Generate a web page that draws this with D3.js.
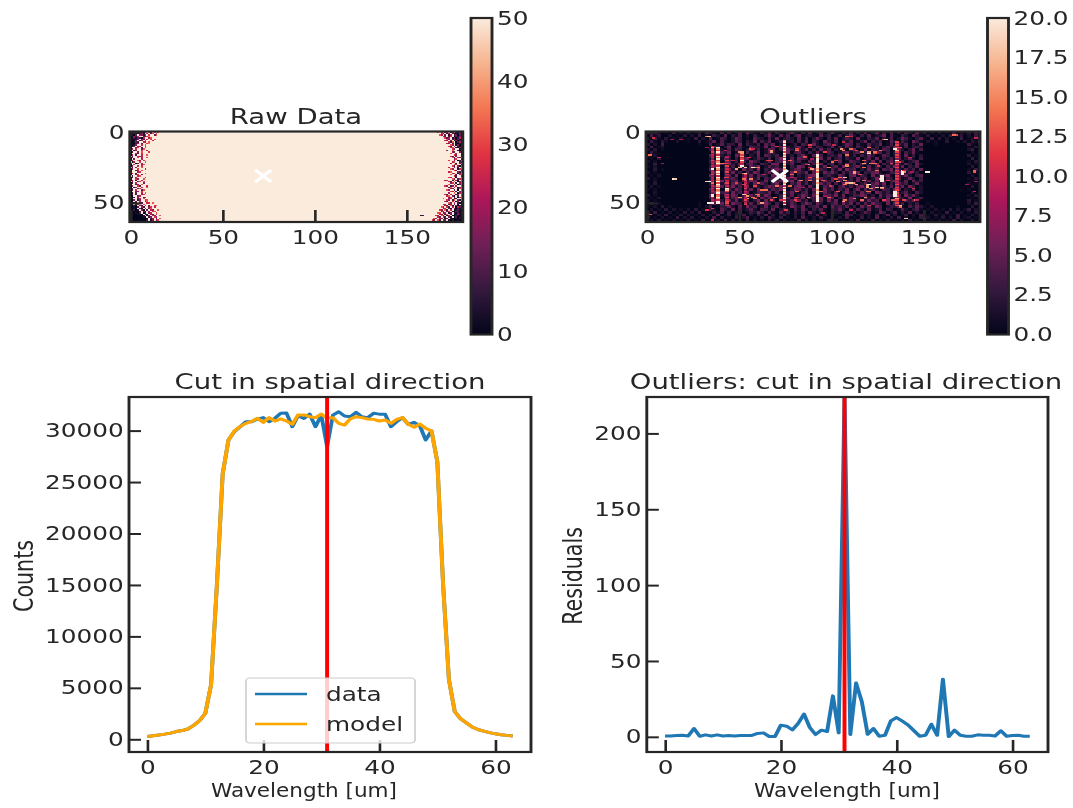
<!DOCTYPE html>
<html>
<head>
<meta charset="utf-8">
<script src="https://cdn.jsdelivr.net/npm/d3@7"></script>
<style>
html, body { margin: 0; background: #fff; overflow: hidden; }
svg { display: block; filter: blur(0.6px); }
text { font-family: "DejaVu Sans", sans-serif; fill: #262626; }
</style>
</head>
<body>
<div id="chart"></div>
<script>
// cut through the cube, one value per spatial pixel
var dataCounts = [280, 350, 420, 500, 600, 750, 850, 1000, 1350, 1800, 2500, 5300, 15000, 25800, 29090, 29900, 30380, 30860, 30860, 31120, 31260, 30860, 31190, 31680, 31700, 30380, 31450, 31190, 31600, 30380, 31500, 28440, 31500, 31830, 31420, 31350, 31770, 31350, 31260, 31680, 31600, 31600, 30380, 30860, 31260, 30600, 30800, 30450, 29090, 29970, 26980, 15000, 5800, 2700, 2000, 1600, 1200, 950, 800, 650, 530, 450, 380, 320];
var modelCounts = [280, 350, 420, 500, 600, 750, 850, 1000, 1350, 1800, 2500, 5300, 15000, 25800, 29090, 29950, 30400, 30700, 30900, 31190, 30800, 31260, 30930, 31130, 30930, 30610, 31520, 31520, 31350, 31260, 31610, 31190, 31260, 30700, 30540, 31130, 31350, 31260, 31130, 31090, 30930, 31030, 30700, 31090, 31260, 30610, 30320, 30640, 30220, 29960, 26980, 15000, 5800, 2700, 2000, 1600, 1200, 950, 800, 650, 530, 450, 380, 320];
var residuals = [0.5, 0.5, 0.8, 1, 0.5, 5.5, 0.4, 1.3, 0.5, 1.3, 0.5, 0.8, 0.5, 0.8, 0.8, 0.9, 2.2, 2.6, 0.2, 0.2, 7.7, 7, 4.6, 8.8, 15, 6.2, 1.5, 4.4, 3.5, 27, 2.6, 224, 1.5, 35.5, 23, 1.7, 5.5, 0.4, 1, 10.5, 12.7, 10.3, 7.7, 4, 0.4, 1, 8.3, 1, 38, 0.2, 4.4, 1, 0.4, 0.4, 1.3, 1, 1, 0.5, 4, 0.4, 0.9, 1, 0.4, 0.4];
var cutPixel = 31;
var markerCell = [72, 31];

// rocket colormap
var rocketStops = ["#03051a", "#35193e", "#701f57", "#ad1759", "#e13342", "#f37651", "#f6b48f", "#faebdd"];

var rawTicks = [0, 10, 20, 30, 40, 50];
var outlierTicks = [0, 2.5, 5, 7.5, 10, 12.5, 15, 17.5, 20];
var imageXTicks = [0, 50, 100, 150];
var imageYTicks = [0, 50];
var cutXTicks = [0, 20, 40, 60];
var countTicks = [0, 5000, 10000, 15000, 20000, 25000, 30000];
var residualTicks = [0, 50, 100, 150, 200];

// raw image is saturated except along the slit ends. digit = value / 4, "." = saturated
var rawLeft = [
"103261405.73.6.8..", "01420351.6.28.7...", "2103.5416.7..38...", "01526..3479.......",
"10314206..58......", "02013.53.6.7.8....", "1005.24.7...6.....", "00132..64.8.......",
"01025.3..79.......", "1014..6.8.........", "023.56..7.........", "0..47.2.8.........",
"14.6..38..........", "3.25..7..6........", "02..4.8...7.......", "1..63.7...........",
"05.2..6..8........", ".2..647...........", "14..7.5..8........", "0.3...6...........",
"26..84.7..........", ".15..7..8.........", "4..03.6...........", "1.7...58..........",
"03..6.7...........", ".2.4..8...........", "15..7...6.........", "0..36.8...........",
"2...57............", "06.3....8.........", "1..47.5...........", ".2..68............",
"03.5....7.........", "1..74..8..........", "04.2..6...........", ".5..37.8..........",
"02.6...4..........", "1..35.8...........", "04..72...6........", "0.25..6..8........",
"13..47............", "02.6..38..........", "0..45.7...........", "01.3..6.8.........",
"03.2..57..........", "00..46............", "102.5..37.........", "01..36.8..........",
"004.25..78........", "01.3.6..48........", "0102.53..67.8.....", "00.36..8..........",
"1020.42.6.3..78...", "00103.52..47.6....", "2010.31.6.48......", "00201.40.3.65..8..",
"100002.31.5.78....", "000103.02.46..8...", "0000100.21.53.7...", "10000002.13.64..8.",
"000000010.24.75...", "0000000000.25.3.8.", "1000000002.14.67..", "00000000.13.52..6."
];
var rawRight = [
"....8.6.35.14.2031", "......74.26.310240", ".....85.3.16.24031", ".......64.27.03150",
"........735.140262", ".........84.260310", "........65.3.14023", "..........728.0351",
".........64.3.1020", "...........85.1403", "..........73.6.212", "...........58.2041",
"............74..13", ".........6..8..205", "............53..40", "...........8..6..2",
".............74..1", "...........63.5..0", "............82.63.", ".............57..1",
"..........7..4.02.", "............68..35", "...........5..2.4.", ".............86..1",
"............73.50.", "..........6..4.2..", "...........85..16.", ".............73..0",
"..........68...42.", "............57.15.", "...........8..3.6.", ".............62..4",
"..........75..1...", "............84.36.", "........57..2.50..", "..........63.8.14.",
"...........47.2.5.", "..........8..6.03.", "........75.24.6...", "..........38.6.15.",
"...........64..27.", ".........85..3.0..", "...........76.2.4.", "..........5..8.16.",
"........73.6..25..", ".........68.41.3..", "..........57.2.06.", ".......8..46.31...",
".........75.28.41.", "........63..7.15.0", "..........84.6.201", ".......75.26.3.1.0",
"........63.81.4020", "......84.72.5.0631", ".......56.31.40213", ".....74.82.6.01310",
"......65.37.104201", "....87.35.14.20312", ".....64.28.3.01510", "...75.83.16.002103",
"....63.72.41.03010", "..85.64.13.2001020", ".74.82.53.10200100", "....83.61.4.020010"
];
var rawSpots = [[158, 59, 5], [159, 59, 10]];

// outliers: faint background, one char per 2x2 pixel block (base 36, value = char * 0.75)
var outlierFaint = [
"3052010402030130531060402507310426051037204160250371042603150270416030520714020301050213050",
"0513002010302040104206031502041037206150470231062401503720416023705104206310301020401302041",
"2041030102010402060153027401063205170342061503720416025307104260315027410361040302010401203",
"0410310020010030137051026403170526014723051604207315042601370425016305207410201003001020315",
"3020500000000010050261430704215063702601405317204613027504106237015042603170001000000004102",
"0501200000000000016403702510643170526031472061530270416305207140362710503420000000000001030",
"2030100000000000030720516403815027604173052604172503160480271530640162037050000000000002401",
"0410000000000000004153702605138026410370562041710630257146032075140360527100000000000000103",
"3020000000000000062031407520317064250813047206150342706140527301640250714030000000000003010",
"0103000000000000020517304167026315048206175302471603504218036170425160372040000000000000402",
"2010000000000000047302615041853027146037251064803152701643052817046315024600000000000001030",
"0040100000000000015062831704620531870426103715280460317250641380527041630720000000000002010",
"1020000000000000037204150631748026351704286031527046180357206143052817042600000000000000302",
"0030100000000000050413726083517042685103672048153062718460317250648031625070000000000001040",
"2010000000000000016305271406285037162408153706217483052617043682015470261300000000000003010",
"0102000000000000072403618052716430851726031478603521740681530726481053720460000000000000201",
"3010000000000000020517463081627053481063721584063172580417360284153061273040000000000001030",
"0020000000000000063180247153860271546038172604518370625418037261405831607240000000000000100",
"1030000000000000030527168405172630481705382614073605182470361582704163502710000000000002010",
"0201000000000000017460382517063148527031684072516380472516830741526037184020000000000000302",
"1010000000000000053701628403718052647103862517408361527048163720541860317020000000000001000",
"0020000000000000028146073518026437150837214605827316048251736085241703610520000000000000201",
"3010000000000000060317285041736285014726038517204638170254861307264150837200000000000001030",
"0102000000000000042703158640281736504261837054271860352741063825170463180250000000000000102",
"2010000000000000018530627146038172504836172504361827053641827350681420637100000000000003010",
"0401000000000010036271085402617384051726304851730246183705162843071625031400100000000002040",
"1020301000000010250143720618350271460318527034618073526140736185024371052631020000001000301",
"0201030201020301042063170513620541703620517304261053720416307125043016203510102010302014020",
"3040102010302040103150402601427305106240315072041062305140263017402503160203020104010201030",
"0102040103020103020601403150204160302510304021603051026401302050160301402050103020104010302",
"4010201040203010205030104026010305204010306102041030205010402060103050201040201030204012010",
"0203010201030104010205030104020103040201050302010403010205010402030102040103010201040200301"
];

// single hot pixels: column, row, value
var outlierSpots = [
[33,3,18],[35,11,16],[32,11,8],[42,13,10],[51,14,16],[57,12,10],[51,20,20],[51,24,20],[53,25,18],[57,25,20],
[60,25,14],[48,26,16],[40,22,14],[42,22,12],[53,29,18],[42,32,12],[32,35,18],[33,35,20],[35,36,14],[52,33,14],
[52,37,12],[43,41,18],[58,38,12],[52,44,18],[54,45,16],[57,46,14],[60,45,12],[33,50,20],[34,50,20],[35,50,20],
[38,46,20],[43,49,12],[1,16,14],[14,33,20],[15,33,18],[35,54,12],[35,62,10],[1,58,12],[18,5,8],[13,5,7],[6,18,10],[8,22,8],
[67,13,16],[81,12,12],[88,11,10],[85,18,12],[89,19,8],[105,12,16],[108,16,14],[113,13,12],[110,3,10],[106,7,10],
[102,20,12],[117,22,16],[117,25,14],[108,23,14],[86,23,10],[88,25,10],[112,29,16],[107,32,18],[104,32,14],[102,33,12],
[110,36,18],[113,37,16],[107,37,14],[119,38,16],[119,42,14],[88,32,12],[81,46,12],[96,45,8],[106,49,16],[116,48,14],
[60,26,9],[62,41,14],[59,44,14],[67,48,12],[62,50,16],[78,32,10],[84,39,8],[81,49,10],
[129,5,18],[120,11,14],[120,15,20],[126,13,14],[123,15,12],[134,12,20],[137,11,12],[121,22,14],[132,22,12],[136,21,12],
[124,27,14],[139,27,10],[143,28,8],[151,28,20],[152,28,20],[166,2,14],[178,4,10],[177,27,14],[177,42,10],[120,37,20],
[119,39,18],[124,39,18],[127,39,18],[120,42,14],[128,48,12],[137,52,18],[139,48,12],[146,48,10],[140,61,18],[173,37,8],[178,35,8]
];
var outlierSpotsDim = [
[50,14,15],[56,12,13],[67,14,16],[50,25,17],[59,25,14],[52,29,14],[56,33,15],[60,36,13],[64,41,14],[50,46,16],
[54,47,15],[58,47,14],[60,44,13],[81,13,14],[85,17,13],[87,23,15],[89,26,16],[80,28,14],[83,34,15],[78,30,13],
[88,34,14],[95,34,13],[98,25,15],[100,21,14],[106,13,15],[108,3,13],[110,12,14],[116,14,15],[120,14,16],[123,14,14],
[108,24,15],[112,28,16],[107,34,15],[103,35,14],[108,36,16],[111,36,15],[117,34,14],[119,37,15],[126,33,16],[121,40,15],
[127,40,14],[117,20,13],[123,22,14],[118,46,15],[107,48,14],[103,42,13],[98,46,14],[87,46,15],[112,47,14],[135,12,15],
[139,28,15],[135,43,16],[145,48,14],[137,53,14],[128,5,13],[133,48,13],[32,3,14],[67,20,12],[70,38,14],[77,20,13],
[77,38,14],[81,42,13],[69,46,14],[65,20,12],[88,9,12],[94,42,13],[80,48,12],[167,2,12],[177,28,13],[150,61,10],
[32,55,11],[75,55,12],[3,4,11],[46,20,10],[48,36,12],[55,18,11],[63,30,10],[70,10,11],[72,48,11],[96,14,12],
[99,38,11],[101,9,10],[115,30,12],[125,24,11],[130,34,12],[142,18,10],[144,40,11],[120,52,11],[110,55,10],[95,57,10]
];

// bad columns: column, first row, value per row (base 36)
var outlierStreaks = [
[38, 11, "kgckgakekcgkeakgckekakgekckgakegkcekgakk"],
[35, 10, "a6a8c6a8a6c8a6a8k6a8c6a8a6c8a6a8a6kka6a8"],
[43, 17, "8a4c6a4c6a8c4a6c4a8c6a4k6c4a8c6a4c6a"],
[51, 15, "gcgac6c8a"],
[53, 30, "c8a6c8a6a8c6a8c6a8c6ac"],
[74, 6, "gkckakgkckgkakckgkekgkckakgkckgkakckgkekgkckak"],
[92, 16, "kkgkkkgkkkgkekkkkgkkgkkkkgkkgkkkkk"],
[135, 7, "c8c6c8gc6c8c6kc6c8c6c8c6c8c6a8c6c8c6c8c6gc8c6c"],
[127, 31, "kkkkk"],
[134, 42, "kkkk"],
[138, 27, "kkkk"]
];

// layout: the figure is stretched sideways, so work in units that the viewBox widens
var stretch = 1.31;
var figWidth = 1073, figHeight = 808;
function px(v) { return v / stretch; }

var svg = d3.select("#chart").append("svg")
    .attr("width", figWidth)
    .attr("height", figHeight)
    .attr("viewBox", "0 0 " + px(figWidth) + " " + figHeight)
    .attr("preserveAspectRatio", "none");

var rocket = d3.scaleLinear()
    .domain(rocketStops.map(function (d, i) { return i / (rocketStops.length - 1); }))
    .range(rocketStops)
    .interpolate(d3.interpolateRgb)
    .clamp(true);

var ink = "#262626";
var tickFont = 18.9;

function styleAxis(g) {
    g.select(".domain").remove();
    g.selectAll("line").attr("stroke", ink).attr("stroke-width", 2);
    g.selectAll("text").attr("font-size", tickFont).style("fill", ink);
}

function frame(g, x, y) {
    g.append("rect")
        .attr("x", x.range()[0]).attr("y", y.range()[1])
        .attr("width", x.range()[1] - x.range()[0])
        .attr("height", y.range()[0] - y.range()[1])
        .attr("fill", "none").attr("stroke", ink).attr("stroke-width", 2.2);
}

function title(label, cx, baseline) {
    svg.append("text").attr("x", px(cx)).attr("y", baseline)
        .attr("text-anchor", "middle").attr("font-size", 21).text(label);
}

function decodeRaw(c) { return (!c || c === ".") ? 50 : parseInt(c, 10) * 4; }

function rawMatrix() {
    var cells = [];
    for (var r = 0; r < 64; r++) {
        for (var c = 0; c < 181; c++) {
            var v = 50;
            if (c < 18) v = decodeRaw(rawLeft[r][c]);
            if (c >= 163) v = decodeRaw(rawRight[r][c - 163]);
            cells.push({ c: c, r: r, v: v });
        }
    }
    rawSpots.forEach(function (s) { cells[s[1] * 181 + s[0]].v = s[2]; });
    return cells;
}

function outlierMatrix() {
    var cells = [];
    for (var r = 0; r < 64; r++) {
        for (var c = 0; c < 181; c++) {
            var row = outlierFaint[Math.floor(r / 2)];
            var ch = row[Math.floor(c / 2)] || "0";
            cells.push({ c: c, r: r, v: parseInt(ch, 36) * 0.75 });
        }
    }
    // hot pixels bleed into the next column on the detector image
    function paint(c, r, v) {
        if (r > 63) return;
        cells[r * 181 + c].v = v;
        if (c < 180) cells[r * 181 + c + 1].v = v;
    }
    outlierSpotsDim.forEach(function (s) { paint(s[0], s[1], s[2]); });
    outlierStreaks.forEach(function (s) {
        s[2].split("").forEach(function (ch, i) { paint(s[0], s[1] + i, parseInt(ch, 36)); });
    });
    outlierSpots.forEach(function (s) { paint(s[0], s[1], s[2]); });
    return cells;
}

function drawImage(cells, vmax, x0, x1, barX0, barX1, ticks, tickFmt) {
    var x = d3.scaleLinear().domain([-0.5, 180.5]).range([px(x0), px(x1)]);
    var y = d3.scaleLinear().domain([63.5, -0.5]).range([222, 131.5]);
    var color = function (v) { return rocket(v / vmax); };
    var g = svg.append("g");

    g.append("g").selectAll("rect").data(cells).enter().append("rect")
        .attr("x", function (d) { return x(d.c - 0.5); })
        .attr("y", function (d) { return y(d.r - 0.5); })
        .attr("width", x(1) - x(0) + 0.02)
        .attr("height", y(1) - y(0) + 0.02)
        .attr("fill", function (d) { return color(d.v); })
        .attr("shape-rendering", "crispEdges");

    g.append("g").attr("transform", "translate(0,222)")
        .call(d3.axisBottom(x).tickValues(imageXTicks).tickSize(-12).tickPadding(5).tickFormat(d3.format("d")))
        .call(styleAxis)
        .selectAll("text").attr("dy", "0.9em");
    g.append("g").attr("transform", "translate(" + px(x0) + ",0)")
        .call(d3.axisLeft(y).tickValues(imageYTicks).tickSize(-12 / stretch).tickPadding(4).tickFormat(d3.format("d")))
        .call(styleAxis);
    frame(g, x, y);

    // white cross on the selected pixel
    g.append("path")
        .attr("d", d3.symbol().type(d3.symbolTimes).size(96))
        .attr("transform", "translate(" + x(markerCell[0]) + "," + y(markerCell[1]) + ")")
        .attr("fill", "none").attr("stroke", "#fff").attr("stroke-width", 3);

    // colorbar
    var id = "bar" + vmax;
    var grad = svg.append("defs").append("linearGradient").attr("id", id)
        .attr("x1", 0).attr("x2", 0).attr("y1", 1).attr("y2", 0);
    rocketStops.forEach(function (c, i) {
        grad.append("stop").attr("offset", i / (rocketStops.length - 1)).attr("stop-color", c);
    });
    var by = d3.scaleLinear().domain([0, vmax]).range([334.5, 18]);
    var bx = d3.scaleLinear().range([px(barX0), px(barX1)]);
    g.append("rect")
        .attr("x", bx.range()[0]).attr("y", by.range()[1])
        .attr("width", bx.range()[1] - bx.range()[0])
        .attr("height", by.range()[0] - by.range()[1])
        .attr("fill", "url(#" + id + ")");
    g.append("g").attr("transform", "translate(" + px(barX1) + ",0)")
        .call(d3.axisRight(by).tickValues(ticks).tickSize(0).tickPadding(px(5)).tickFormat(tickFmt))
        .call(styleAxis);
    frame(g, bx, by);
}

function drawCut(x0, x1, yDomain, yTicks, series, yLabel, ylabelX, titleX, xlabelX) {
    var x = d3.scaleLinear().domain([-3.15, 66.15]).range([px(x0), px(x1)]);
    var y = d3.scaleLinear().domain(yDomain).range([752, 397]);
    var g = svg.append("g");
    var line = d3.line()
        .x(function (d, i) { return x(i); })
        .y(function (d) { return y(d); });

    g.append("clipPath").attr("id", "clip" + x0).append("rect")
        .attr("x", x.range()[0]).attr("y", y.range()[1])
        .attr("width", x.range()[1] - x.range()[0])
        .attr("height", y.range()[0] - y.range()[1]);

    var marks = g.append("g").attr("clip-path", "url(#clip" + x0 + ")");
    series.forEach(function (s) {
        marks.append("path").datum(s.values)
            .attr("d", line)
            .attr("fill", "none")
            .attr("stroke", s.color)
            .attr("stroke-width", 3)
            .attr("stroke-linejoin", "round");
    });
    marks.append("line")
        .attr("x1", x(cutPixel)).attr("x2", x(cutPixel))
        .attr("y1", y.range()[0]).attr("y2", y.range()[1])
        .attr("stroke", "red").attr("stroke-width", 3);

    g.append("g").attr("transform", "translate(0," + y.range()[0] + ")")
        .call(d3.axisBottom(x).tickValues(cutXTicks).tickSize(-12).tickPadding(5).tickFormat(d3.format("d")))
        .call(styleAxis)
        .selectAll("text").attr("dy", "0.9em");
    g.append("g").attr("transform", "translate(" + px(x0) + ",0)")
        .call(d3.axisLeft(y).tickValues(yTicks).tickSize(-12 / stretch).tickPadding(4).tickFormat(d3.format("d")))
        .call(styleAxis);
    frame(g, x, y);

    title(titleX.label, titleX.cx, 389);
    svg.append("text").attr("x", px(xlabelX)).attr("y", 797)
        .attr("text-anchor", "middle").attr("font-size", 20)
        .attr("textLength", px(186)).attr("lengthAdjust", "spacingAndGlyphs")
        .text("Wavelength [um]");
    svg.append("text")
        .attr("transform", "translate(" + px(ylabelX) + ",576) rotate(-90)")
        .attr("text-anchor", "middle").attr("font-size", 20.6).text(yLabel);
}

drawImage(rawMatrix(), 50, 129.8, 462.8, 471, 492, rawTicks, d3.format("d"));
drawImage(outlierMatrix(), 20, 646, 980, 987.5, 1008.5, outlierTicks, d3.format(".1f"));
title("Raw Data", 296, 124);
title("Outliers", 813, 124);

drawCut(129, 531, [-1235, 33265], countTicks,
    [{ values: dataCounts, color: "#1f77b4" }, { values: modelCounts, color: "orange" }],
    "Counts", 33, { label: "Cut in spatial direction", cx: 330 }, 304);
drawCut(646.8, 1048, [-10, 224], residualTicks,
    [{ values: residuals, color: "#1f77b4" }],
    "Residuals", 582, { label: "Outliers: cut in spatial direction", cx: 846 }, 847);

// legend
var legendNames = ["data", "model"];
var legendColors = ["#1f77b4", "orange"];
var legend = svg.append("g");
legend.append("rect")
    .attr("x", px(246)).attr("y", 678)
    .attr("width", px(169)).attr("height", 65)
    .attr("rx", 3).attr("fill", "#fff").attr("fill-opacity", 0.8)
    .attr("stroke", "#ccc").attr("stroke-width", 1.2);
legendNames.forEach(function (name, i) {
    var ly = 694 + i * 30;
    legend.append("line")
        .attr("x1", px(255)).attr("x2", px(307))
        .attr("y1", ly).attr("y2", ly)
        .attr("stroke", legendColors[i]).attr("stroke-width", 2.5);
    legend.append("text")
        .attr("x", px(326)).attr("y", ly + 7)
        .attr("font-size", 18.9).text(name);
});
</script>
</body>
</html>
